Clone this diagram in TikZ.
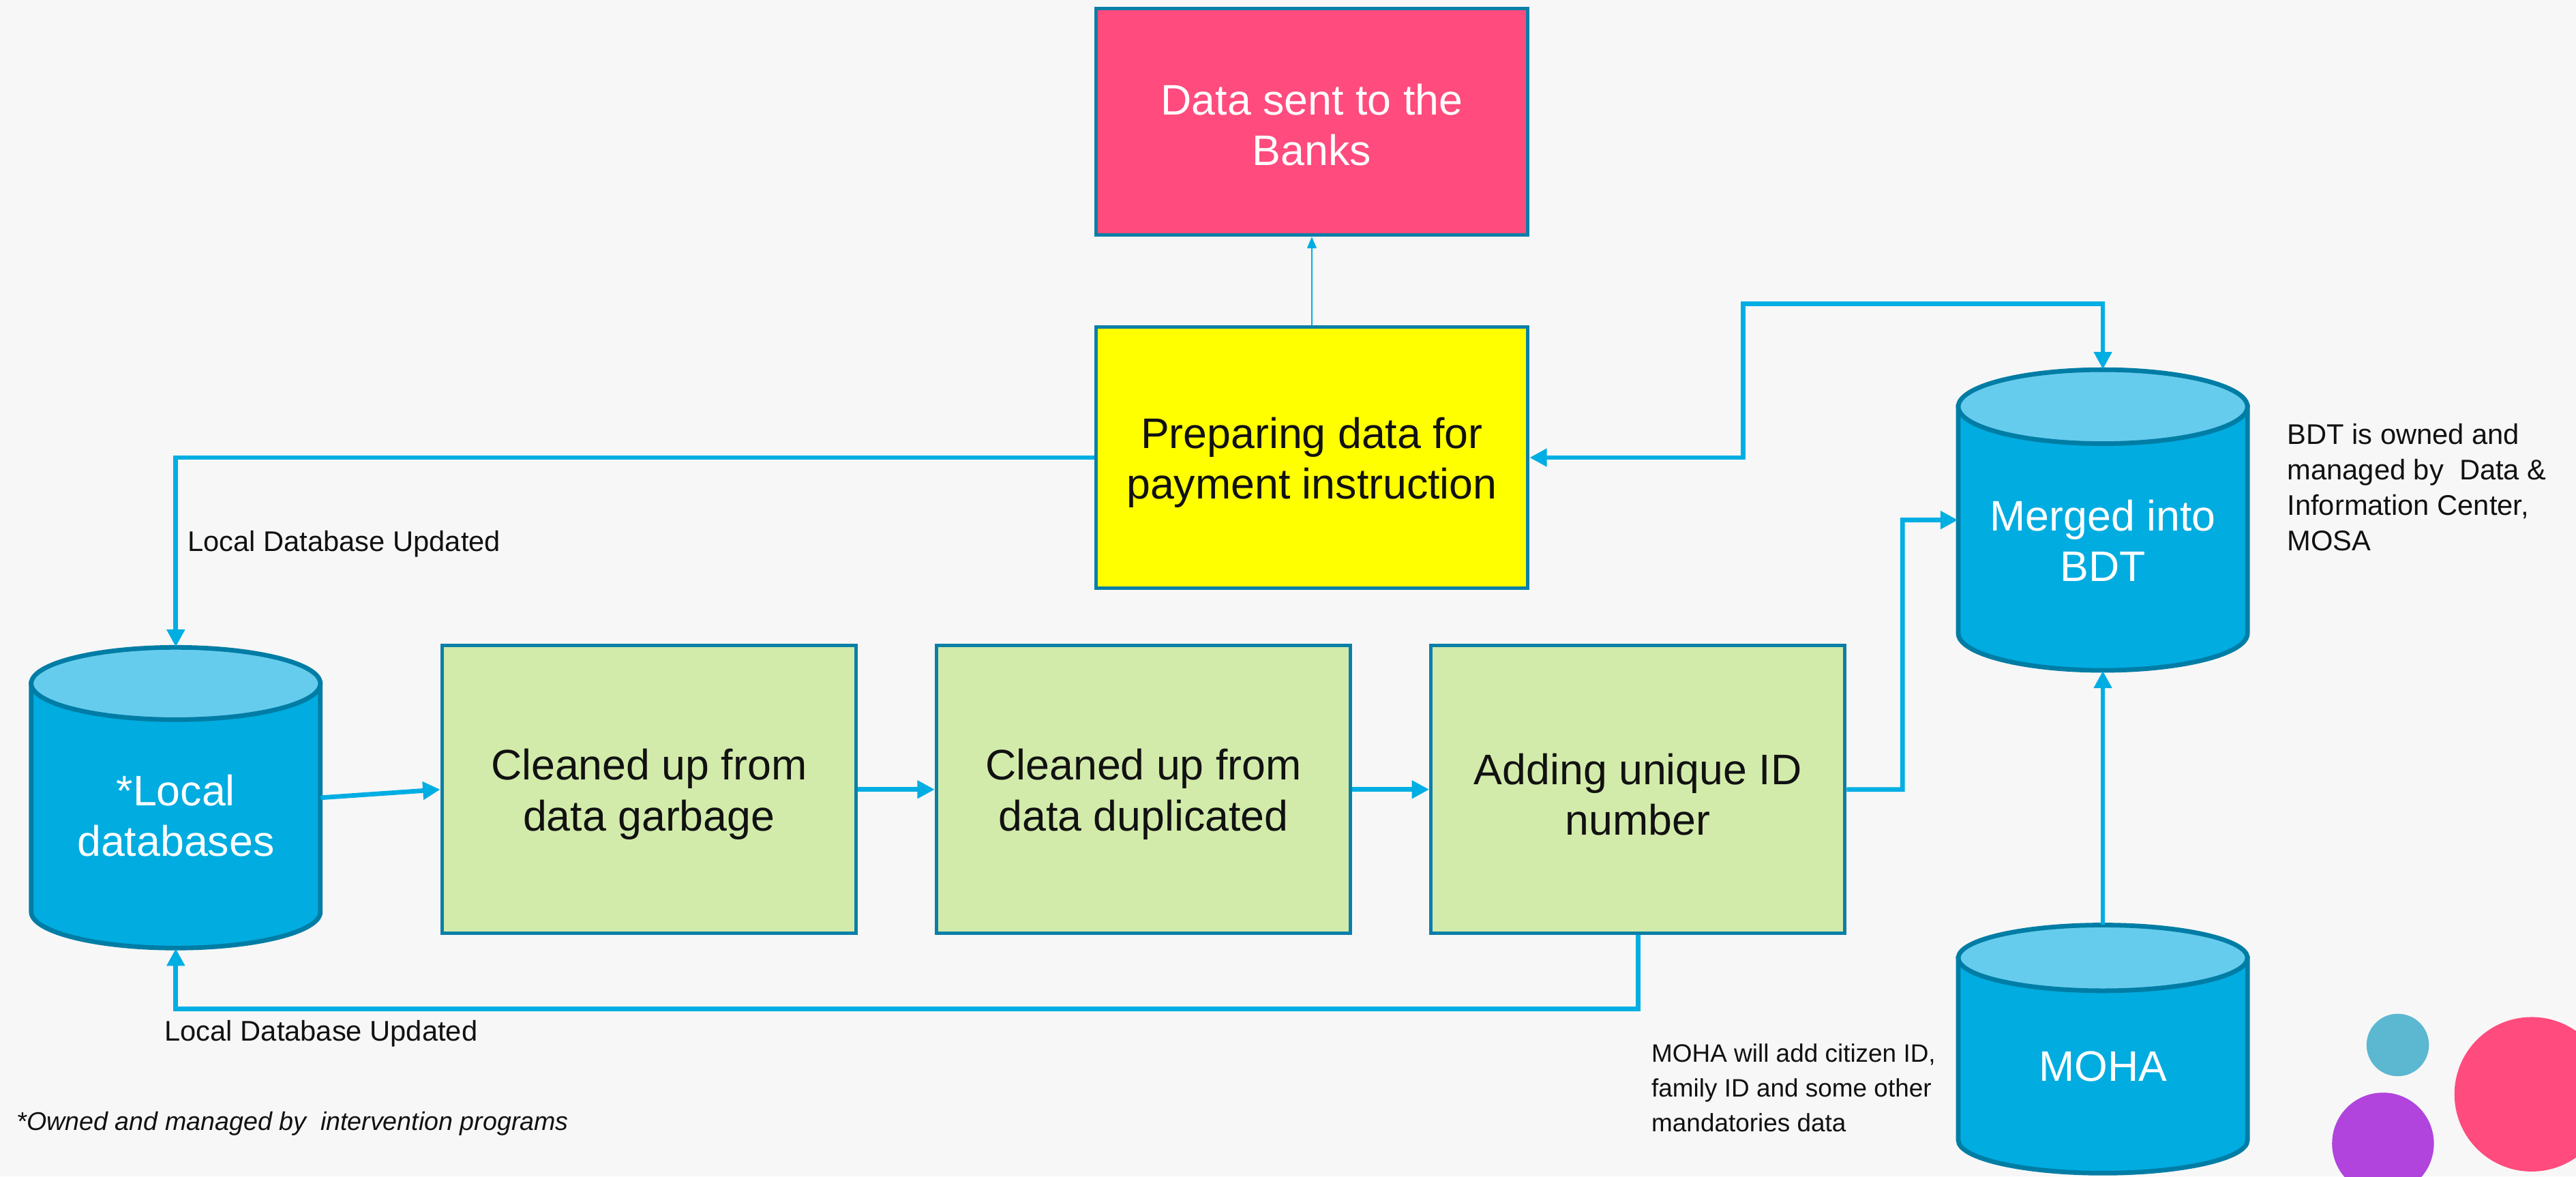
\documentclass[tikz,border=0pt]{standalone}
\usepackage{fontspec}
\setmainfont{Liberation Sans}
\usetikzlibrary{arrows.meta,fit,calc}
\definecolor{bgc}{HTML}{F7F7F7}
\definecolor{pinkc}{HTML}{FF4B7D}
\definecolor{yellowc}{HTML}{FFFF00}
\definecolor{greenc}{HTML}{D2EBAA}
\definecolor{borderc}{HTML}{0A7FA8}
\definecolor{cylbody}{HTML}{00ACE0}
\definecolor{cyltop}{HTML}{66CCEE}
\definecolor{cylborder}{HTML}{007DA5}
\definecolor{connc}{HTML}{00AEE3}
\definecolor{dotblue}{HTML}{5BB8D0}
\definecolor{dotpurple}{HTML}{B044DD}
\definecolor{textc}{HTML}{111111}
\tikzset{
  boxstyle/.style={draw=borderc, line width=1.5pt, inner sep=0pt},
  boxtext/.style={align=center, inner sep=0pt, font=\fontsize{18.5}{22}\selectfont},
  cylframe/.style={inner sep=0pt, draw=none},
  cyltext/.style={align=center, text=white, font=\fontsize{18.5}{22}\selectfont},
  note/.style={align=left, text=textc, font=\fontsize{12.3}{15.4}\selectfont, inner sep=0pt},
  conn/.style={draw=connc, line width=2pt, -{Triangle[length=7.5pt,width=7.5pt]}},
  thinconn/.style={draw=connc, line width=0.7pt, -{Triangle[length=5pt,width=4pt]}},
}
\newcommand\drawcyl[5]{% cx, top-center y, bottom-center y, rx, ry
  \filldraw[fill=cylbody, draw=cylborder, line width=2pt]
    (#1-#4,#2) -- (#1-#4,#3) arc[start angle=180, end angle=0, x radius=#4, y radius=#5]
    -- (#1+#4,#2) -- cycle;
  \filldraw[fill=cyltop, draw=cylborder, line width=2pt] (#1,#2) ellipse [x radius=#4, y radius=#5];
}
\begin{document}
\begin{tikzpicture}[x=0.025cm,y=-0.025cm]
\useasboundingbox (0,0) rectangle (1568,716);
\fill[bgc] (0,0) rectangle (1568,716);
\clip (0,0) rectangle (1568,716);

% cylinders
\drawcyl{107}{416}{555}{88}{22}
\drawcyl{1280}{247.5}{385.5}{88}{22.5}
\drawcyl{1280}{583}{694}{88}{20}
\node[cylframe, fit={(19,394) (195,577)}] (local) {};
\node[cylframe, fit={(1192,225) (1368,408)}] (bdt) {};
\node[cylframe, fit={(1192,563) (1368,714)}] (moha) {};
\node[cyltext] (localtxt) at (107,496.5) {*Local\\databases};
\node[cyltext] (bdttxt) at (1280,329) {Merged into\\BDT};
\node[cyltext] (mohatxt) at (1280,649) {MOHA};

% boxes
\node[boxstyle, fill=pinkc, fit={(667,5) (930,143)}] (pink) {};
\node[boxstyle, fill=yellowc, fit={(667,199) (930,358)}] (yellow) {};
\node[boxstyle, fill=greenc, fit={(269,393) (521,568)}] (g1) {};
\node[boxstyle, fill=greenc, fit={(570,393) (822,568)}] (g2) {};
\node[boxstyle, fill=greenc, fit={(871,393) (1123,568)}] (g3) {};
\node[boxtext, text=white] (pinktxt) at (798.5,76) {Data sent to the\\Banks};
\node[boxtext, text=textc] (yellowtxt) at (798.5,281.5) {Preparing data for\\payment instruction};
\node[boxtext, text=textc] (g1txt) at (395,483.5) {Cleaned up from\\data garbage};
\node[boxtext, text=textc] (g2txt) at (696,483.5) {Cleaned up from\\data duplicated};
\node[boxtext, text=textc] (g3txt) at (997,483.5) {Adding unique ID\\number};

% connectors
\coordinate (c1) at (1061,185);
\coordinate (c2) at (1158,480.5);
\coordinate (c3) at (997,614);
\draw[thinconn] (yellow.north) -- (pink.south);
\draw[conn] (yellow.west) -| (local.north);
\draw[conn, {Triangle[length=7.5pt,width=7.5pt]}-{Triangle[length=7.5pt,width=7.5pt]}] (yellow.east) -| (c1) -| (bdt.north);
\draw[conn] (local.east) -- (g1.west);
\draw[conn] (g1.east) -- (g2.west);
\draw[conn] (g2.east) -- (g3.west);
\draw[conn] (g3.east) -- (c2) |- (bdt.west);
\draw[conn] (g3.south) -- (c3) -| (local.south);
\draw[conn] (moha.north) -- (bdt.south);

% notes
\node[note, anchor=west] (lbl1) at (114,331) {Local Database Updated};
\node[note, anchor=west] (lbl2) at (100,629) {Local Database Updated};
\node[note, anchor=west] (bdtnote) at (1392,296.5) {BDT is owned and\\managed by~~Data \&\\Information Center,\\MOSA};
\node[note, anchor=west, font=\fontsize{10.9}{15}\selectfont] (mohanote) at (1005,662) {MOHA will add citizen ID,\\family ID and some other\\mandatories data};
\node[note, anchor=west, font=\fontsize{11.1}{14}\selectfont\itshape] (foot) at (10,684) {*Owned and managed by~~intervention programs};

% decorative dots
\fill[dotblue] (1459.5,636) circle[radius=19];
\fill[dotpurple] (1450.5,696) circle[radius=31];
\fill[pinkc] (1541,666) circle[radius=47];
\end{tikzpicture}
\end{document}
